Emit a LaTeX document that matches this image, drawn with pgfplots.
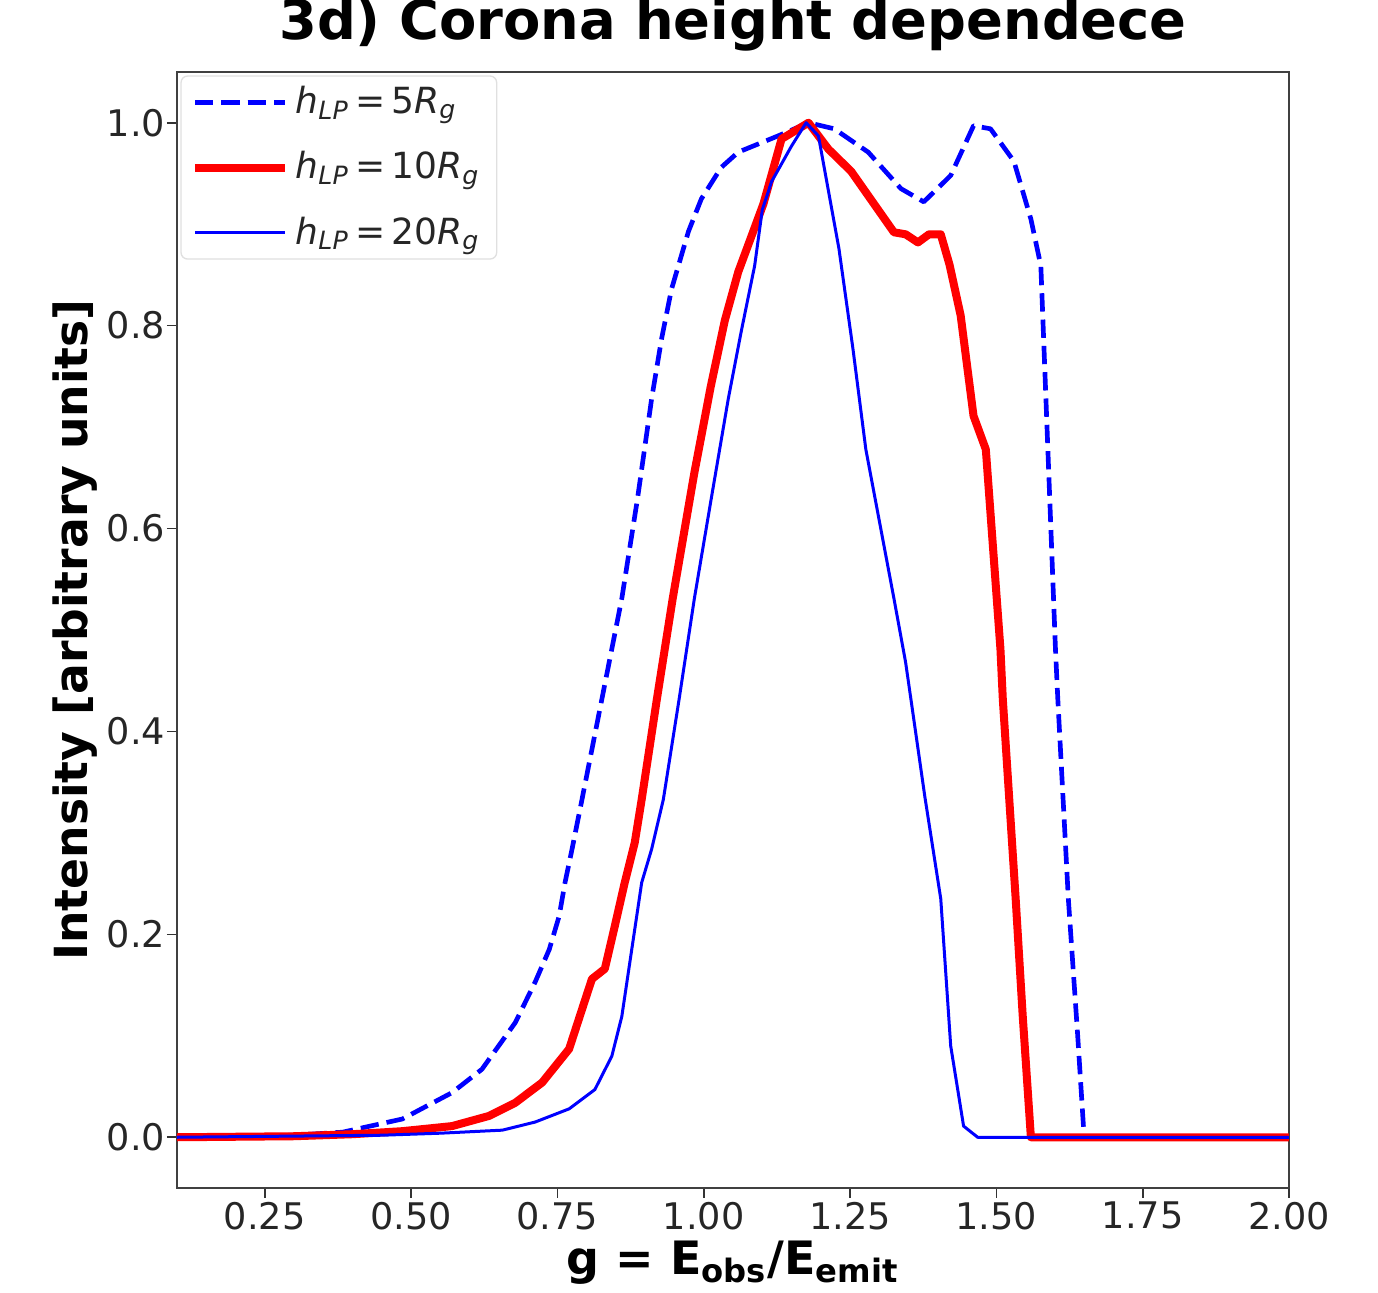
\documentclass[border=0pt]{standalone}
\usepackage{fontspec}
\setmainfont{DejaVu Sans}
\usepackage{pgfplots}
\pgfplotsset{compat=1.18}
\definecolor{mplblue}{RGB}{0,0,255}
\definecolor{mplred}{RGB}{255,0,0}
\definecolor{txtgray}{RGB}{38,38,38}
\begin{document}
\begin{tikzpicture}
\begin{axis}[
  scale only axis,
  width=333.6pt, height=334.8pt,
  xmin=0.1, xmax=2.0, ymin=-0.05, ymax=1.05,
  xtick={0.25,0.5,0.75,1.0,1.25,1.5,1.75,2.0},
  ytick={0,0.2,0.4,0.6,0.8,1.0},
  tick pos=left, tick align=outside,
  major tick length=3pt,
  every tick/.style={black!80, line width=0.5pt},
  axis line style={black!75, line width=0.5pt},
  /pgf/number format/assume math mode=true,
  x tick label style={/pgf/number format/fixed,/pgf/number format/fixed zerofill,/pgf/number format/precision=2, yshift=2.3pt},
  y tick label style={/pgf/number format/fixed,/pgf/number format/fixed zerofill,/pgf/number format/precision=1, xshift=3pt},
  tick label style={font=\fontsize{11}{13}\selectfont, text=txtgray},
  title={\textbf{3d) Corona height dependece}},
  title style={font=\fontsize{16.3}{19}\selectfont, at={(axis description cs:0.5,1.0108)}, anchor=base},
  ylabel={\textbf{Intensity [arbitrary units]}},
  ylabel style={font=\fontsize{13.7}{16}\selectfont, at={(axis description cs:-0.092,0.5)}, anchor=center},
  xlabel={\textbf{g = E\textsubscript{obs}/E\textsubscript{emit}}},
  xlabel style={font=\fontsize{13.8}{16}\selectfont, at={(axis description cs:0.5,-0.067)}, anchor=center},
  legend cell align=left,
  legend style={at={(axis description cs:0.003,0.997)}, anchor=north west,
    draw=black!12, rounded corners=2pt, fill=white,
    font=\fontsize{10.8}{13}\selectfont, text=txtgray,
    row sep=5.9pt, inner xsep=3pt, inner ysep=1pt},
  legend image code/.code={\draw[#1] (0pt,0pt) -- (24pt,0pt); \path (0pt,0pt) -- (27pt,0pt);},
  every axis plot/.append style={line join=round},
]
\addplot[mplblue, line width=1.4pt, dash pattern=on 5.5pt off 2.4pt] coordinates {
(0.10,0) (0.30,0.002) (0.383,0.005) (0.485,0.018) (0.57,0.044) (0.621,0.067)
(0.678,0.113) (0.712,0.153) (0.736,0.185) (0.753,0.218) (0.763,0.251) (0.775,0.284)
(0.792,0.333) (0.826,0.432) (0.860,0.531) (0.887,0.630) (0.911,0.728) (0.928,0.787)
(0.945,0.836) (0.974,0.893) (0.996,0.925) (1.030,0.956) (1.059,0.971) (1.127,0.987)
(1.179,1.000) (1.223,0.994) (1.281,0.971) (1.337,0.935) (1.376,0.922) (1.422,0.948)
(1.461,0.997) (1.490,0.994) (1.530,0.962) (1.559,0.905) (1.576,0.859) (1.588,0.678)
(1.601,0.481) (1.605,0.432) (1.623,0.235) (1.639,0.100) (1.650,0) (2.00,0)
};
\addlegendentry{\textit{h}\textsubscript{\textit{LP}}\,=\,5\textit{R}\textsubscript{\textit{g}}}
\addplot[mplred, line width=2.4pt] coordinates {
(0.10,0) (0.30,0.001) (0.40,0.003) (0.485,0.006) (0.57,0.011) (0.633,0.021)
(0.678,0.034) (0.724,0.054) (0.770,0.087) (0.792,0.126) (0.809,0.156) (0.831,0.166)
(0.848,0.208) (0.865,0.251) (0.882,0.290) (0.894,0.333) (0.920,0.432) (0.947,0.531)
(0.984,0.655) (1.012,0.740) (1.036,0.805) (1.059,0.853) (1.102,0.920) (1.133,0.984)
(1.179,1.000) (1.213,0.974) (1.252,0.952) (1.325,0.892) (1.345,0.890) (1.366,0.882)
(1.385,0.890) (1.405,0.890) (1.420,0.860) (1.439,0.810) (1.461,0.711) (1.482,0.678)
(1.507,0.481) (1.511,0.432) (1.533,0.235) (1.545,0.120) (1.559,0) (2.00,0)
};
\addlegendentry{\textit{h}\textsubscript{\textit{LP}}\,=\,10\textit{R}\textsubscript{\textit{g}}}
\addplot[mplblue, line width=0.9pt] coordinates {
(0.10,0) (0.45,0.002) (0.55,0.004) (0.656,0.007) (0.712,0.015) (0.770,0.028)
(0.814,0.047) (0.843,0.080) (0.860,0.119) (0.877,0.185) (0.894,0.251) (0.911,0.284)
(0.931,0.333) (0.958,0.432) (0.984,0.531) (1.013,0.630) (1.042,0.728) (1.064,0.794)
(1.087,0.859) (1.100,0.914) (1.116,0.942) (1.150,0.977) (1.175,1.000) (1.196,0.987)
(1.231,0.876) (1.255,0.777) (1.277,0.678) (1.325,0.531) (1.345,0.468) (1.378,0.335)
(1.405,0.235) (1.422,0.090) (1.444,0.011) (1.468,0) (2.00,0)
};
\addlegendentry{\textit{h}\textsubscript{\textit{LP}}\,=\,20\textit{R}\textsubscript{\textit{g}}\rule[-7.5pt]{0pt}{0pt}}
\end{axis}
\pgfresetboundingbox
\useasboundingbox (-53.1pt,-31.5pt) rectangle (360.3pt,356.4pt);
\end{tikzpicture}
\end{document}
